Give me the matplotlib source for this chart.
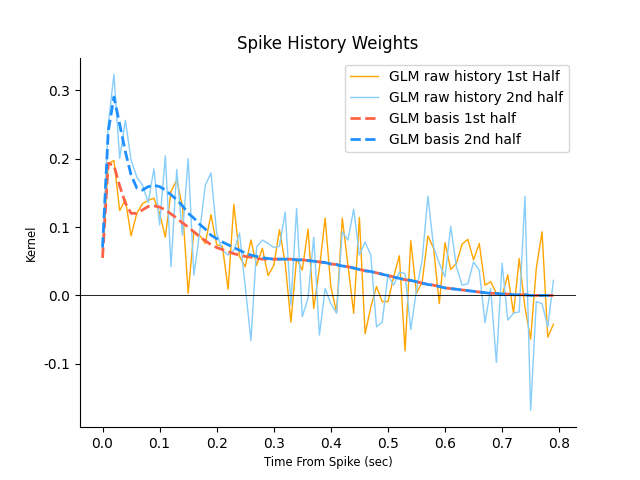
import numpy as np
import matplotlib
matplotlib.use("Agg")
import matplotlib.pyplot as plt

plt.rcParams["axes.unicode_minus"] = False

# time axis (sec), 10 ms bins
t = np.arange(80) * 0.01

raw_first = [0.056, 0.193, 0.197, 0.124, 0.14, 0.087, 0.12, 0.134, 0.139, 0.142,
             0.12, 0.085, 0.152, 0.169, 0.13, 0.003, 0.093, 0.088, 0.076, 0.118,
             0.074, 0.072, 0.009, 0.133, 0.057, 0.042, 0.081, 0.044, 0.069, 0.029,
             0.044, 0.096, 0.047, -0.039, 0.054, 0.037, 0.097, -0.019, 0.04, 0.113,
             0.013, -0.025, 0.113, 0.044, -0.026, 0.114, -0.056, -0.017, 0.013, -0.009,
             -0.009, 0.027, 0.058, -0.081, 0.08, 0.003, 0.02, 0.087, 0.069, -0.012,
             0.077, 0.038, 0.047, 0.075, 0.082, 0.052, 0.076, 0.015, 0.02, 0.003,
             0.0, 0.03, -0.026, 0.054, -0.017, -0.064, 0.04, 0.093, -0.061, -0.042]

raw_second = [0.075, 0.25, 0.323, 0.2, 0.256, 0.198, 0.173, 0.161, 0.136, 0.185,
              0.103, 0.204, 0.042, 0.184, 0.088, 0.2, 0.03, 0.091, 0.161, 0.179,
              0.091, 0.066, 0.059, 0.066, 0.091, 0.013, -0.066, 0.071, 0.081, 0.076,
              0.07, 0.072, 0.122, -0.014, 0.127, -0.031, -0.004, 0.085, -0.058, 0.01,
              -0.012, -0.026, 0.093, 0.081, 0.126, 0.059, 0.078, 0.059, -0.046, -0.039,
              0.03, 0.015, 0.034, 0.032, -0.05, 0.008, 0.052, 0.145, 0.071, 0.047,
              0.027, 0.101, 0.042, 0.015, 0.017, 0.049, 0.037, -0.04, 0.01, -0.098,
              0.047, -0.036, -0.026, -0.024, 0.145, -0.168, -0.009, -0.012, -0.046, 0.022]

tail = [0.053, 0.053, 0.053, 0.053, 0.052, 0.052, 0.051, 0.05, 0.049, 0.048,
        0.046, 0.045, 0.043, 0.042, 0.04, 0.038, 0.036, 0.035, 0.033, 0.031,
        0.029, 0.027, 0.025, 0.023, 0.022, 0.02, 0.018, 0.016, 0.015, 0.013,
        0.011, 0.01, 0.009, 0.008, 0.007, 0.006, 0.005, 0.004, 0.003, 0.003,
        0.002, 0.002, 0.001, 0.001, 0.001, 0.0, 0.0, 0.0, 0.0, 0.0]

basis_first = [0.055, 0.193, 0.19, 0.16, 0.135, 0.12, 0.12, 0.125, 0.13, 0.131,
               0.129, 0.125, 0.119, 0.113, 0.106, 0.1, 0.093, 0.086, 0.08, 0.074,
               0.07, 0.067, 0.064, 0.061, 0.059, 0.057, 0.056, 0.054, 0.053, 0.053] + tail

basis_second = [0.07, 0.24, 0.29, 0.25, 0.21, 0.176, 0.157, 0.154, 0.159, 0.161,
                0.159, 0.154, 0.147, 0.14, 0.131, 0.12, 0.113, 0.104, 0.097, 0.088,
                0.083, 0.078, 0.074, 0.07, 0.066, 0.062, 0.059, 0.057, 0.055, 0.054] + tail

fig, ax = plt.subplots(figsize=(6.4, 4.8), dpi=100)
ax.plot(t, raw_first, color="orange", lw=1, label="GLM raw history 1st Half")
ax.plot(t, raw_second, color="lightskyblue", lw=1, label="GLM raw history 2nd half")
ax.plot(t, basis_first, color="tomato", lw=2, ls="--", label="GLM basis 1st half")
ax.plot(t, basis_second, color="dodgerblue", lw=2, ls="--", label="GLM basis 2nd half")
ax.axhline(0, color="black", lw=0.6)

ax.spines["top"].set_visible(False)
ax.spines["right"].set_visible(False)
ax.set_title("Spike History Weights", fontsize=12)
ax.set_xlabel("Time From Spike (sec)", fontsize="small")
ax.set_ylabel("Kernel", fontsize="small")
ax.legend(loc="upper right", fontsize=10)

fig.savefig("out.png", dpi=100)
